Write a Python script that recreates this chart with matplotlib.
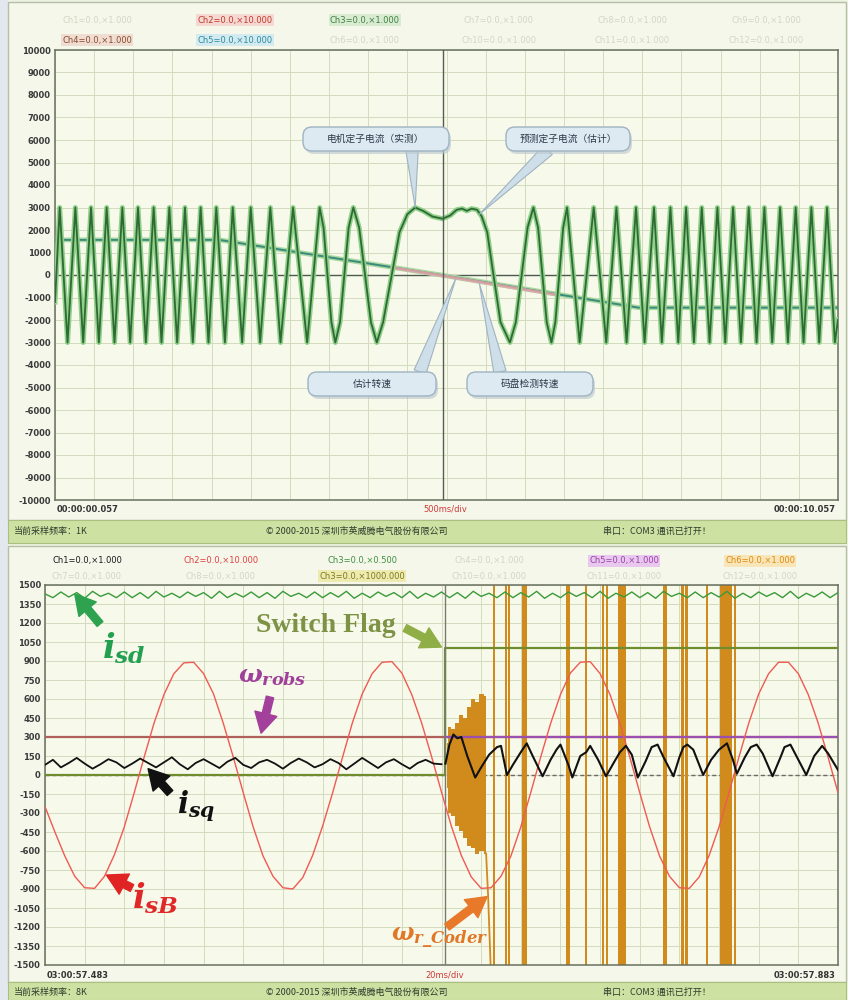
import numpy as np
import matplotlib.pyplot as plt
from matplotlib.patches import Rectangle, FancyBboxPatch
from matplotlib.transforms import IdentityTransform

W, H = 848, 1000
plt.rcParams['font.family'] = ['DejaVu Sans', 'Noto Sans CJK SC']
plt.rcParams['mathtext.fontset'] = 'custom'
plt.rcParams['mathtext.it'] = 'DejaVu Serif:italic:bold'
plt.rcParams['mathtext.rm'] = 'DejaVu Serif:bold'
plt.rcParams['mathtext.bf'] = 'DejaVu Serif:bold'
CJK = ['Noto Sans CJK SC', 'DejaVu Sans']

# ---------------- top panel data (time in s, value in counts) ----------------
wave_t = [0.00, 0.06, 0.11, 0.16, 0.21, 0.26, 0.31, 0.36, 0.41, 0.46, 0.51, 0.56, 0.61, 0.66,
          0.71, 0.76, 0.81, 0.86, 0.91, 0.96, 1.01, 1.06, 1.11, 1.16, 1.21, 1.26, 1.31, 1.36,
          1.41, 1.46, 1.51, 1.56, 1.61, 1.66, 1.71, 1.76, 1.81, 1.86, 1.91, 1.96, 2.01, 2.06,
          2.115, 2.17, 2.22, 2.27, 2.33, 2.39, 2.445, 2.50, 2.56, 2.62, 2.685, 2.75, 2.815, 2.88,
          2.96, 3.04, 3.13, 3.22, 3.30, 3.38, 3.43, 3.48, 3.53, 3.58, 3.64, 3.695, 3.75, 3.81,
          3.885, 3.96, 4.035, 4.11, 4.19, 4.30, 4.40, 4.50, 4.60, 4.70, 4.82, 4.95, 5.05, 5.13,
          5.20, 5.26, 5.32, 5.39, 5.45, 5.52, 5.60, 5.69, 5.81, 5.885, 5.96, 6.035, 6.11, 6.17,
          6.225, 6.28, 6.34, 6.39, 6.44, 6.49, 6.54, 6.62, 6.70, 6.79, 6.88, 6.96, 7.04, 7.105,
          7.17, 7.235, 7.30, 7.36, 7.42, 7.475, 7.53, 7.59, 7.65, 7.70, 7.75, 7.805, 7.86, 7.91,
          7.96, 8.01, 8.06, 8.11, 8.16, 8.21, 8.26, 8.31, 8.36, 8.41, 8.46, 8.51, 8.56, 8.61,
          8.66, 8.71, 8.76, 8.81, 8.86, 8.91, 8.96, 9.01, 9.06, 9.11, 9.16, 9.21, 9.26, 9.31,
          9.36, 9.41, 9.46, 9.51, 9.56, 9.61, 9.66, 9.71, 9.76, 9.81, 9.86, 9.91, 9.96, 10.0]
wave_v = [-1200, 3000, 0, -3000, 0, 3000, 0, -3000, 0, 3000, 0, -3000, 0, 3000,
          0, -3000, 0, 3000, 0, -3000, 0, 3000, 0, -3000, 0, 3000, 0, -3000,
          0, 3000, 0, -3000, 0, 3000, 0, -3000, 0, 3000, 0, -3000, 0, 3000,
          0, -3000, 0, 3000, 0, -3000, 0, 3000, 0, -3000, 0, 3000, 0, -3000,
          0, 3000, 0, -3000, 0, 3000, 2100, 0, -2100, -3000, -2100, 0, 2100, 3000,
          2100, 0, -2100, -3000, -2100, 0, 1900, 2700, 3000, 2850, 2600, 2500, 2650, 2900,
          2950, 2850, 2950, 2900, 2600, 1900, 0, -2100, -3000, -2100, 0, 2100, 3000, 2100,
          0, -2100, -3000, -2100, 0, 2100, 3000, 0, -3000, 0, 3000, 0, -3000, 0,
          3000, 0, -3000, 0, 3000, 0, -3000, 0, 3000, 0, -3000, 0, 3000, 0,
          -3000, 0, 3000, 0, -3000, 0, 3000, 0, -3000, 0, 3000, 0, -3000, 0,
          3000, 0, -3000, 0, 3000, 0, -3000, 0, 3000, 0, -3000, 0, 3000, 0,
          -3000, 0, 3000, 0, -3000, 0, 3000, 0, -3000, 0, 3000, 0, -3000, -2000]
speed_t = [0.0, 2.1, 4.93, 7.45, 10.0]
speed_v = [1560, 1560, 0, -1450, -1450]
coder_top_t = [4.3, 5.0, 5.6, 6.4]
coder_top_v = [330, -60, -420, -880]
top_yticks = list(range(10000, -10001, -1000))

# ---------------- bottom panel data (time in ms) ----------------
isd_t = np.arange(0, 401, 4)
isd_v = [1430, 1400, 1445, 1405, 1440, 1395, 1450, 1410, 1435, 1400,
         1445, 1400, 1440, 1395, 1450, 1405, 1435, 1400, 1445, 1410,
         1440, 1395, 1450, 1400, 1435, 1405, 1445, 1400, 1440, 1395,
         1450, 1410, 1435, 1400, 1445, 1400, 1440, 1405, 1450, 1395,
         1435, 1400, 1445, 1410, 1440, 1400, 1450, 1395, 1435, 1405,
         1445, 1400, 1440, 1395, 1450, 1410, 1435, 1400, 1445, 1400,
         1440, 1405, 1450, 1395, 1435, 1400, 1445, 1410, 1440, 1400,
         1450, 1395, 1435, 1405, 1445, 1400, 1440, 1395, 1450, 1410,
         1435, 1400, 1445, 1400, 1440, 1405, 1450, 1395, 1435, 1400,
         1445, 1410, 1440, 1400, 1450, 1395, 1435, 1405, 1445, 1400,
         1440]

isb_t = np.arange(0, 401, 5)
isb_v = [-250, -450, -640, -800,
         -890, -895, -800, -630, -410, -140, 140, 410, 635, 800,
         885, 890, 800, 640, 405, 140, -140, -410, -640, -800,
         -890, -900, -810, -635, -405, -145, 135, 410, 640, 800,
         890, 895, 805, 635, 410, 145, -135, -405, -635, -805,
         -895, -890, -800, -640, -410, -140, 140, 405, 635, 805,
         890, 895, 800, 635, 405, 140, -140, -410, -640, -800,
         -890, -895, -805, -635, -410, -140, 140, 410, 640, 800,
         890, 890, 800, 635, 410, 140, -140]

isq_left_t = np.arange(0, 201, 4)
isq_left_v = [80, 120, 60, 95, 135, 90, 50, 85, 125, 100,
              55, 90, 130, 95, 60, 100, 140, 85, 45, 95,
              125, 90, 55, 105, 135, 80, 55, 100, 120, 90,
              50, 95, 130, 100, 60, 85, 125, 95, 45, 90,
              135, 95, 55, 100, 125, 85, 50, 95, 120, 90, 85]
isq_right_t = [202, 204, 206, 208, 210, 213, 217, 220, 224, 228, 230, 233, 236, 240, 243,
               246, 251, 255, 258, 260, 264, 266, 270, 273, 275, 279, 283, 287, 290, 293,
               296, 299, 303, 306, 309, 312, 317, 320, 322, 324, 327, 332, 336, 340, 344,
               347, 349, 353, 356, 359, 362, 367, 371, 373, 376, 379, 384, 388, 392, 395, 400]
isq_right_v = [90, 240, 320, 290, 300, 150, -20, 60, 160, 220, 230, 0, 80, 180, 250,
               150, -10, 120, 200, 240, 80, -20, 150, 180, 230, 120, -10, 100, 180, 230,
               160, -20, 110, 220, 240, 140, -10, 140, 220, 240, 200, 0, 120, 200, 250,
               120, 10, 140, 220, 240, 170, -10, 140, 220, 240, 150, 0, 150, 230, 170, 40]

switch_t = [0, 202, 202, 400]
switch_v = [0, 0, 1000, 1000]
robs_t = [0, 400]
robs_v = [300, 300]
robs_new_t = [202, 400]
robs_new_v = [300, 300]

block_t = [203, 204, 206, 208, 210, 212, 214, 216, 218, 220, 222.5]
block_hi = [250, 380, 360, 410, 470, 450, 540, 600, 580, 640, 620]
block_lo = [-100, -300, -320, -400, -440, -500, -560, -580, -620, -600, -620]
coder_drop_t = [222.5, 223.5, 225]
coder_drop_v = [-620, -950, -1600]
bar_t = [226.5, 232.5, 234, 242, 263.8, 272.9, 281.5, 283.5, 290, 292, 312.7, 321.8, 323.8, 333.9, 343.5, 348]
bar_w = [0.7, 0.7, 0.7, 2.4, 2.4, 1.2, 1.2, 1.2, 2.0, 2.0, 2.4, 1.5, 1.5, 0.7, 6.0, 0.8]
bot_yticks = list(range(1500, -1501, -150))


def box(x0, y0, x1, y1):
    return [x0 / W, 1 - y1 / H, (x1 - x0) / W, (y1 - y0) / H]


def fp(x, y):
    return (x / W, 1 - y / H)


def rect(x0, y0, x1, y1, fc, ec='none', lw=0, z=-1):
    fig.add_artist(Rectangle(fp(x0, y1), (x1 - x0) / W, (y1 - y0) / H, transform=fig.transFigure,
                             fc=fc, ec=ec, lw=lw, zorder=z))


fig = plt.figure(figsize=(W / 100, H / 100), dpi=100)
fig.patch.set_facecolor('#eef2e2')

# window frames
rect(0, 0, 8, 1000, '#e3e7ee')
rect(8, 2, 846, 520, '#f4f7ea', ec='#b5bea6', lw=1)
rect(8, 520, 846, 543, '#cde1a2', ec='#aabf80', lw=0.8)
rect(8, 546, 846, 982, '#f4f7ea', ec='#b5bea6', lw=1)
rect(8, 982, 846, 1000, '#cde1a2', ec='#aabf80', lw=0.8)


def style(ax, yt, xt):
    ax.set_facecolor('#f7f9ea')
    ax.set_yticks(yt)
    ax.set_yticklabels([str(v) for v in yt], fontsize=6, fontweight='bold', color='#3a3a3a')
    ax.set_xticks(xt)
    ax.set_xticklabels([])
    ax.tick_params(length=0, pad=3)
    ax.grid(True, color='#d3dcbf', lw=0.7)
    ax.set_axisbelow(True)
    for s in ax.spines.values():
        s.set_color('#68705e')
        s.set_linewidth(1.1)


# ================= top panel =================
ax1 = fig.add_axes(box(55, 50, 838, 500))
ax1.set_xlim(0, 10)
ax1.set_ylim(-10000, 10000)
style(ax1, top_yticks, np.arange(0, 10.01, 0.5))
ax1.axhline(0, color='#4d5a4d', lw=1.0, zorder=2)
ax1.plot(speed_t, speed_v, color='#a9d9a0', lw=3.5, zorder=2)
ax1.plot(speed_t, speed_v, color='#3b8a7e', lw=1.4, zorder=3)
ax1.plot(coder_top_t, coder_top_v, color='#e7a3aa', lw=2.2, alpha=0.85, zorder=3)
ax1.plot(wave_t, wave_v, color='#8fd08a', lw=3.6, zorder=4)
ax1.plot(wave_t, wave_v, color='#2f6a34', lw=1.3, zorder=5)
ax1.axvline(4.96, color='#555b55', lw=1.0, zorder=6)

fig.text(*fp(57, 509), '00:00:00.057', fontsize=6, fontweight='bold', color='#333', va='center')
fig.text(*fp(445, 509), '500ms/div', fontsize=6, color='#d03a3a', va='center', ha='center')
fig.text(*fp(836, 509), '00:00:10.057', fontsize=6, fontweight='bold', color='#333', va='center', ha='right')


def callout(cx, cy, w, h, text, target, base):
    ax1.annotate('', xy=target, xycoords='data', xytext=fp(*base), textcoords='figure fraction',
                 arrowprops=dict(arrowstyle='wedge,tail_width=0.9,shrink_factor=0.5',
                                 fc='#cfdfe9', ec='#9fb3c2', lw=0.8, shrinkA=0, shrinkB=0),
                 zorder=7)
    x0, y0 = cx - w / 2, H - cy - h / 2
    fig.add_artist(FancyBboxPatch((x0 + 2, y0 - 3), w, h, boxstyle='round,pad=0,rounding_size=9',
                                  transform=IdentityTransform(), fc='#b9c6cf', ec='none', alpha=0.6, zorder=4))
    fig.add_artist(FancyBboxPatch((x0, y0), w, h, boxstyle='round,pad=0,rounding_size=9',
                                  transform=IdentityTransform(), fc='#deeaf2', ec='#9fb3c2', lw=1, zorder=5))
    fig.text(*fp(cx, cy), text, fontsize=7, family=CJK, color='#2b3a48', ha='center', va='center', zorder=6)


callout(376, 139, 146, 24, '电机定子电流（实测）', (4.60, 3000), (412, 150))
callout(568, 139, 124, 24, '预测定子电流（估计）', (5.42, 2700), (548, 150))
callout(372, 384, 128, 24, '估计转速', (5.12, -150), (420, 372))
callout(530, 384, 126, 24, '码盘检测转速', (5.42, -380), (500, 372))

# top header legend
hdr_cols = [97, 235, 365, 499, 632, 766]
top_row1 = ['Ch1=0.0,×1.000', 'Ch2=0.0,×10.000', 'Ch3=0.0,×1.000', 'Ch7=0.0,×1.000', 'Ch8=0.0,×1.000', 'Ch9=0.0,×1.000']
top_row2 = ['Ch4=0.0,×1.000', 'Ch5=0.0,×10.000', 'Ch6=0.0,×1.000', 'Ch10=0.0,×1.000', 'Ch11=0.0,×1.000', 'Ch12=0.0,×1.000']
top_row1_c = ['#d3d6c6', '#c0392b', '#3f7f3f', '#d3d6c6', '#d3d6c6', '#d3d6c6']
top_row2_c = ['#8a4a2e', '#2b8b9b', '#d3d6c6', '#d3d6c6', '#d3d6c6', '#d3d6c6']
top_row1_bg = [None, '#f5d8d2', '#d9ecd2', None, None, None]
top_row2_bg = ['#f0ddd2', '#d2eaf0', None, None, None, None]
for x, s, c, bg in zip(hdr_cols, top_row1, top_row1_c, top_row1_bg):
    fig.text(*fp(x, 20), s, fontsize=6, color=c, ha='center', va='center',
             bbox=None if bg is None else dict(fc=bg, ec='none', pad=1))
for x, s, c, bg in zip(hdr_cols, top_row2, top_row2_c, top_row2_bg):
    fig.text(*fp(x, 40), s, fontsize=6, color=c, ha='center', va='center',
             bbox=None if bg is None else dict(fc=bg, ec='none', pad=1))

# top status bar
fig.text(*fp(14, 531), '当前采样频率：1K', fontsize=6.5, family=CJK, color='#2d3d2d', va='center')
fig.text(*fp(266, 531), '© 2000-2015 深圳市英威腾电气股份有限公司', fontsize=6.5, family=CJK, color='#2d3d2d', va='center')
fig.text(*fp(603, 531), '串口：COM3 通讯已打开！', fontsize=6.5, family=CJK, color='#2d3d2d', va='center')

# ================= bottom panel =================
ax2 = fig.add_axes(box(45, 585, 838, 965))
ax2.set_xlim(0, 400)
ax2.set_ylim(-1500, 1500)
style(ax2, bot_yticks, np.arange(0, 401, 20))
ax2.axhline(0, color='#6a6a6a', lw=1.0, ls=(0, (3, 2)), zorder=2)

orange = '#d08b1c'
ax2.bar(bar_t, [3000] * len(bar_t), width=bar_w, bottom=-1500, color=orange, zorder=2)
ax2.fill_between(block_t, block_lo, block_hi, color=orange, lw=0, zorder=2, step='mid')
ax2.plot(coder_drop_t, coder_drop_v, color=orange, lw=1.3, zorder=2)

ax2.plot(isd_t, isd_v, color='#3a9a3a', lw=1.0, zorder=3)
ax2.plot(switch_t, switch_v, color='#6f8d2e', lw=1.6, zorder=3)
ax2.plot(robs_t, robs_v, color='#b0605a', lw=1.6, zorder=3)
ax2.plot(robs_new_t, robs_new_v, color='#9b50b0', lw=1.6, zorder=3)
ax2.axvline(202, color='#7a7a72', lw=1.0, zorder=3)
ax2.plot(isb_t, isb_v, color='#ef5a52', lw=1.0, zorder=4)
ax2.plot(isq_left_t, isq_left_v, color='#111111', lw=1.3, zorder=5)
ax2.plot(isq_right_t, isq_right_v, color='#111111', lw=1.5, zorder=5)

fig.text(*fp(47, 975), '03:00:57.483', fontsize=6, fontweight='bold', color='#333', va='center')
fig.text(*fp(445, 975), '20ms/div', fontsize=6, color='#d03a3a', va='center', ha='center')
fig.text(*fp(836, 975), '03:00:57.883', fontsize=6, fontweight='bold', color='#333', va='center', ha='right')


def arrow(target, start, color):
    ax2.annotate('', xy=target, xycoords='data', xytext=fp(*start), textcoords='figure fraction',
                 arrowprops=dict(arrowstyle='simple,head_length=0.8,head_width=0.9,tail_width=0.3',
                                 color=color, shrinkA=0, shrinkB=0, mutation_scale=18), zorder=8)


arrow((15, 1430), (100, 624), '#2ea24f')
arrow((200, 1010), (405, 628), '#8fae45')
arrow((109, 330), (270, 697), '#a3409c')
arrow((52, 50), (170, 793), '#111111')
arrow((31, -790), (132, 888), '#e02424')
arrow((223, -960), (447, 927), '#e8782a')

fig.text(*fp(124, 648), r'$i_{sd}$', fontsize=24, color='#22a050', ha='center', va='center')
fig.text(*fp(326, 626), 'Switch Flag', fontsize=20, fontweight='bold', family='Liberation Serif',
         color='#7d9245', ha='center', va='center')
fig.text(*fp(272, 676), r'$\omega_{robs}$', fontsize=18, color='#a0409a', ha='center', va='center')
fig.text(*fp(196, 806), r'$i_{sq}$', fontsize=21, color='#111111', ha='center', va='center')
fig.text(*fp(155, 898), r'$i_{sB}$', fontsize=24, color='#e02828', ha='center', va='center')
fig.text(*fp(440, 938), r'$\omega_{r\_Coder}$', fontsize=17, color='#e07828', ha='center', va='center')

# bottom header legend
bot_row1 = ['Ch1=0.0,×1.000', 'Ch2=0.0,×10.000', 'Ch3=0.0,×0.500', 'Ch4=0.0,×1.000', 'Ch5=0.0,×1.000', 'Ch6=0.0,×1.000']
bot_row2 = ['Ch7=0.0,×1.000', 'Ch8=0.0,×1.000', 'Ch3=0.0,×1000.000', 'Ch10=0.0,×1.000', 'Ch11=0.0,×1.000', 'Ch12=0.0,×1.000']
bot_cols = [87, 221, 362, 489, 624, 760]
bot_row1_c = ['#1a1a1a', '#e04040', '#3f8f3f', '#d3d6c6', '#9b40a8', '#e08a10']
bot_row1_bg = [None, None, None, None, '#e8c8ee', '#f8e6b8']
bot_row2_c = ['#d3d6c6', '#d3d6c6', '#7a7a20', '#d3d6c6', '#d3d6c6', '#d3d6c6']
bot_row2_bg = [None, None, '#eeeab0', None, None, None]
for x, s, c, bg in zip(bot_cols, bot_row1, bot_row1_c, bot_row1_bg):
    fig.text(*fp(x, 561), s, fontsize=6, color=c, ha='center', va='center',
             bbox=None if bg is None else dict(fc=bg, ec='none', pad=1))
for x, s, c, bg in zip(bot_cols, bot_row2, bot_row2_c, bot_row2_bg):
    fig.text(*fp(x, 576), s, fontsize=6, color=c, ha='center', va='center',
             bbox=None if bg is None else dict(fc=bg, ec='none', pad=1))

fig.text(*fp(14, 992), '当前采样频率：8K', fontsize=6.5, family=CJK, color='#2d3d2d', va='center')
fig.text(*fp(266, 992), '© 2000-2015 深圳市英威腾电气股份有限公司', fontsize=6.5, family=CJK, color='#2d3d2d', va='center')
fig.text(*fp(603, 992), '串口：COM3 通讯已打开！', fontsize=6.5, family=CJK, color='#2d3d2d', va='center')

fig.savefig('out.png', dpi=100)
